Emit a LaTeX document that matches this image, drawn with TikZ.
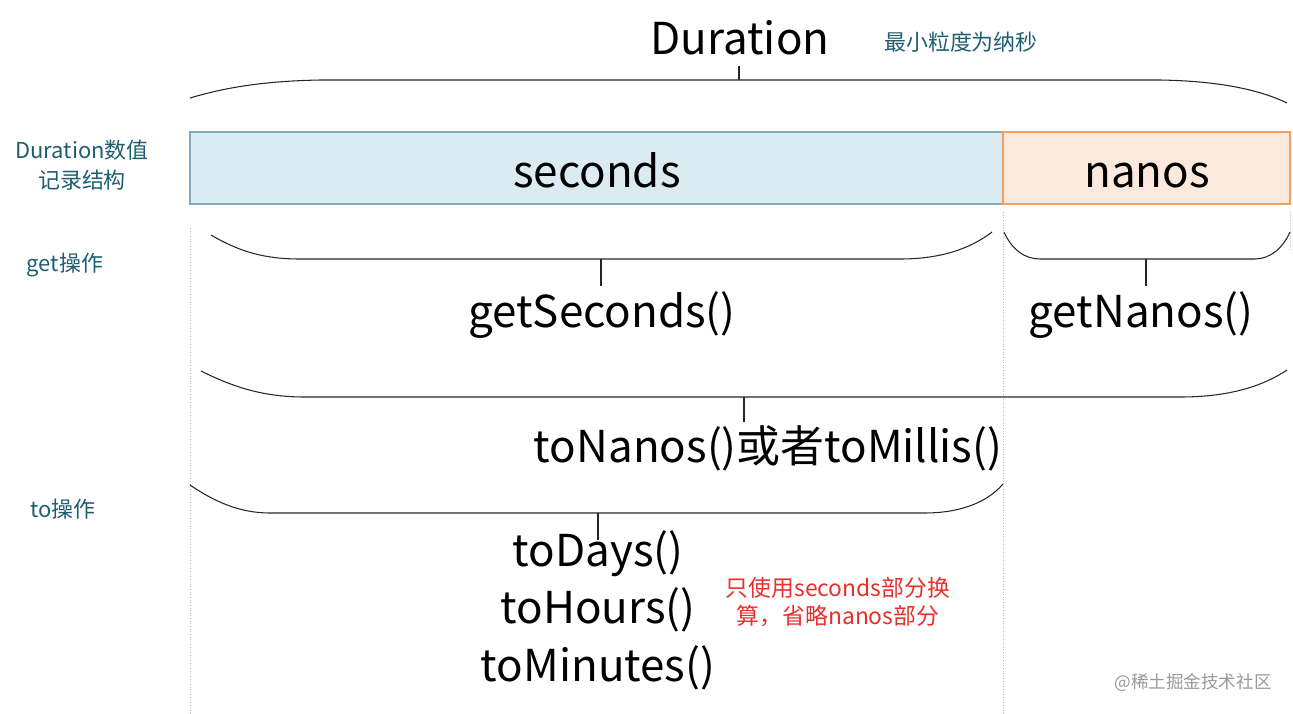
\documentclass[tikz,border=0pt]{standalone}
\usepackage{fontspec}
\setmainfont{Noto Sans CJK SC}
\definecolor{teal1}{HTML}{1F5E72}
\definecolor{secfill}{HTML}{DBEBF2}
\definecolor{secdraw}{HTML}{7EABBF}
\definecolor{nanfill}{HTML}{FCE9DD}
\definecolor{nandraw}{HTML}{F0A060}
\definecolor{redtxt}{HTML}{E8302A}
\begin{document}
\begin{tikzpicture}[x=0.02cm,y=-0.02cm,
  big/.style={font=\fontsize{25}{28}\selectfont, inner sep=0pt, anchor=base},
  lab/.style={font=\fontsize{12.5}{17}\selectfont, text=teal1, inner sep=0pt, align=center},
  brc/.style={line width=0.6pt, draw=black!85},
  guide/.style={densely dotted, draw=black!25, line width=0.5pt},
  cell/.style={minimum height=72*0.02cm, inner sep=0pt, line width=0.8pt}]
\useasboundingbox (0,0) rectangle (1293,713);

% guides
\draw[guide] (190,228) -- (190,713);
\draw[guide] (1003,212) -- (1003,713);
\draw[guide] (1290,212) -- (1290,250);

% top brace
\node[big] (dur) at (740,55) {Duration};
\node[lab, font=\fontsize{12.5}{15}\selectfont] (minu) at (961,42) {最小粒度为纳秒};
\draw[brc] (190,98) .. controls (230,86) and (270,81) .. (320,80) -- (1160,80) .. controls (1220,81) and (1260,90) .. (1287,103);
\draw[brc] (739,80) -- (739,66);

% cells
\node[cell, fill=secfill, draw=secdraw, minimum width=813*0.02cm] (sec) at (596.5,168) {};
\node[cell, fill=nanfill, draw=nandraw, minimum width=287*0.02cm] (nan) at (1146.5,168) {};
\node[big] (sect) at (597,187) {seconds};
\node[big] (nant) at (1147,187) {nanos};

% left labels
\node[lab] (rec) at (82,165) {Duration数值\\记录结构};
\node[lab] (getl) at (65,265) {get操作};
\node[lab] (tol) at (63,509) {to操作};

% get braces
\draw[brc] (211,235) .. controls (240,252) and (265,259) .. (300,259) -- (900,259) .. controls (940,259) and (970,249) .. (992,232);
\node[big] (gs) at (602,327) {getSeconds()};
\draw[brc] (601,259) -- (601,286);
\draw[brc] (1004,232) .. controls (1012,250) and (1025,259) .. (1040,259) -- (1255,259) .. controls (1270,259) and (1283,248) .. (1290,232);
\node[big] (gn) at (1141,327) {getNanos()};
\draw[brc] (1146,259) -- (1146,286);

% to brace 1
\draw[brc] (201,371) .. controls (235,388) and (265,397) .. (305,397) -- (1180,397) .. controls (1225,397) and (1260,388) .. (1287,370);
\node[big] (tn) at (768,462) {toNanos()或者toMillis()};
\draw[brc] (744,397) -- (744,422);

% to brace 2
\draw[brc] (190,485) .. controls (215,502) and (240,513) .. (270,513) -- (925,513) .. controls (955,513) and (985,505) .. (1003,484);
\draw[brc] (598,513) -- (598,540);
\node[big] (td) at (598,566) {toDays()};
\node[big] (th) at (598,623) {toHours()};
\node[big] (tm) at (598,681) {toMinutes()};

% red note
\node[font=\fontsize{13}{16}\selectfont, text=redtxt, align=center, inner sep=0pt] (note) at (838,602) {只使用seconds部分换\\算，省略nanos部分};

% watermark
\node[font=\fontsize{10}{12}\selectfont, text=black!40, inner sep=0pt] (wm) at (1193,683) {@稀土掘金技术社区};
\end{tikzpicture}
\end{document}
